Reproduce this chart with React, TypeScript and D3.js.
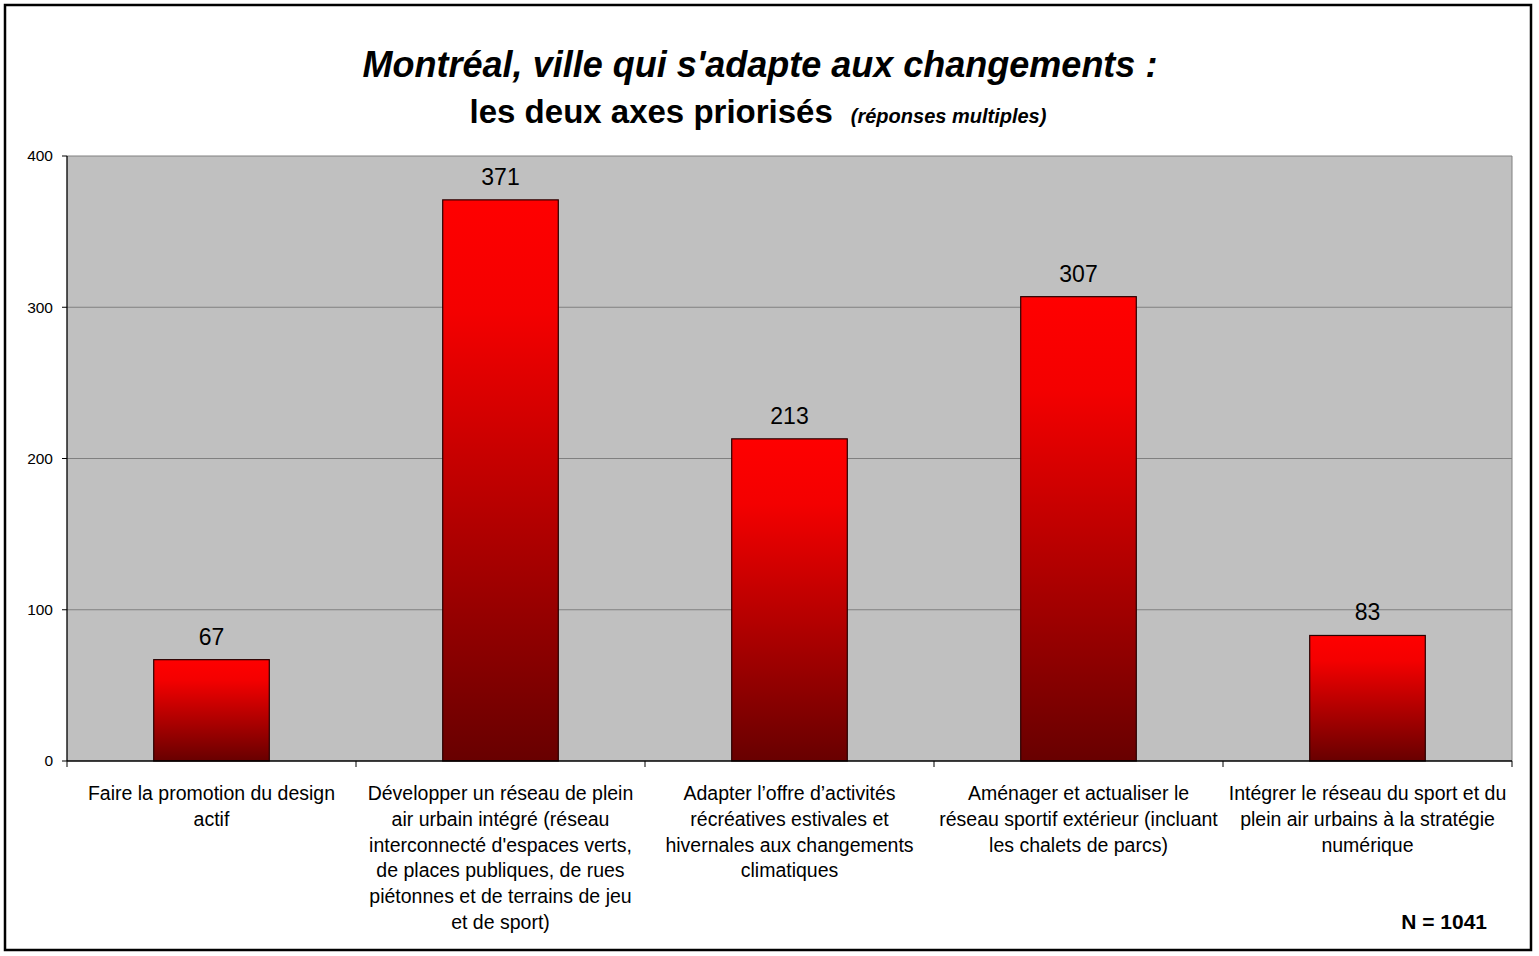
import React from "react";
import * as d3 from "d3";

const categories = [
  ["Faire la promotion du design", "actif"],
  [
    "Développer un réseau de plein",
    "air urbain intégré (réseau",
    "interconnecté d'espaces verts,",
    "de places publiques, de rues",
    "piétonnes et de terrains de jeu",
    "et de sport)",
  ],
  [
    "Adapter l’offre d’activités",
    "récréatives estivales et",
    "hivernales aux changements",
    "climatiques",
  ],
  [
    "Aménager et actualiser le",
    "réseau sportif extérieur (incluant",
    "les chalets de parcs)",
  ],
  [
    "Intégrer le réseau du sport et du",
    "plein air urbains à la stratégie",
    "numérique",
  ],
];
const values = [67, 371, 213, 307, 83];
const yTicks = [0, 100, 200, 300, 400];

const W = 1539;
const H = 956;
const FONT = "'Liberation Sans', Arial, sans-serif";

const App = () => {
  const left = 67;
  const right = 1512;
  const top = 156;
  const bottom = 761;

  const x = d3
    .scaleBand<number>()
    .domain(values.map((_, i) => i))
    .range([left, right])
    .paddingInner(0.6)
    .paddingOuter(0.3);

  const y = d3.scaleLinear().domain([0, 400]).range([bottom, top]);

  const step = x.step();
  // category boundaries for the x tick marks
  const bounds = d3.range(values.length + 1).map((i) => left + i * step);

  return (
    <svg
      width={W}
      height={H}
      style={{ position: "absolute", left: 0, top: 0, fontFamily: FONT }}
    >
      <defs>
        <linearGradient id="barGrad" x1="0" y1="0" x2="0" y2="1">
          <stop offset="0" stopColor="#ff0000" />
          <stop offset="0.2" stopColor="#f40000" />
          <stop offset="1" stopColor="#680000" />
        </linearGradient>
      </defs>
      <rect x={0} y={0} width={W} height={H} fill="#fff" />
      <rect
        x={5}
        y={5}
        width={1526}
        height={945}
        fill="none"
        stroke="#000"
        strokeWidth={2.5}
      />

      {/* title */}
      <text
        x={760}
        y={77}
        textAnchor="middle"
        fontSize={36}
        fontWeight="bold"
        fontStyle="italic"
      >
        Montréal, ville qui s'adapte aux changements :
      </text>
      <text x={758} y={123} textAnchor="middle" fontWeight="bold">
        <tspan fontSize={33}>les deux axes priorisés</tspan>
        <tspan fontSize={20} fontStyle="italic" dx={18}>
          (réponses multiples)
        </tspan>
      </text>

      {/* plot area */}
      <rect x={left} y={top} width={right - left} height={bottom - top} fill="#c0c0c0" />
      {yTicks.slice(1).map((t) => (
        <line
          key={t}
          x1={left}
          x2={right}
          y1={y(t)}
          y2={y(t)}
          stroke="#808080"
          strokeWidth={1}
        />
      ))}
      <line x1={right} x2={right} y1={top} y2={bottom} stroke="#808080" strokeWidth={1} />

      {values.map((v, i) => (
        <g key={i}>
          <rect
            x={x(i)}
            y={y(v)}
            width={x.bandwidth()}
            height={y(0) - y(v)}
            fill="url(#barGrad)"
            stroke="#2a0000"
            strokeWidth={1.2}
          />
          <text
            x={(x(i) as number) + x.bandwidth() / 2}
            y={y(v) - 15}
            textAnchor="middle"
            fontSize={23}
          >
            {v}
          </text>
        </g>
      ))}

      {/* axes */}
      <line x1={left} x2={left} y1={top} y2={bottom} stroke="#000" strokeWidth={1.3} />
      <line x1={left} x2={right} y1={bottom} y2={bottom} stroke="#000" strokeWidth={1.3} />
      {yTicks.map((t) => (
        <g key={t}>
          <line x1={left - 5} x2={left} y1={y(t)} y2={y(t)} stroke="#000" />
          <text
            x={53}
            y={y(t)}
            dy="0.35em"
            textAnchor="end"
            fontSize={15.5}
          >
            {t}
          </text>
        </g>
      ))}
      {bounds.map((b, i) => (
        <line key={i} x1={b} x2={b} y1={bottom} y2={bottom + 6} stroke="#000" />
      ))}

      {categories.map((lines, i) => (
        <text
          key={i}
          x={(x(i) as number) + x.bandwidth() / 2}
          y={800}
          textAnchor="middle"
          fontSize={19.5}
        >
          {lines.map((l, j) => (
            <tspan key={j} x={(x(i) as number) + x.bandwidth() / 2} dy={j === 0 ? 0 : 25.8}>
              {l}
            </tspan>
          ))}
        </text>
      ))}

      <text x={1487} y={929} textAnchor="end" fontSize={21} fontWeight="bold">
        N = 1041
      </text>
    </svg>
  );
};

export default App;
